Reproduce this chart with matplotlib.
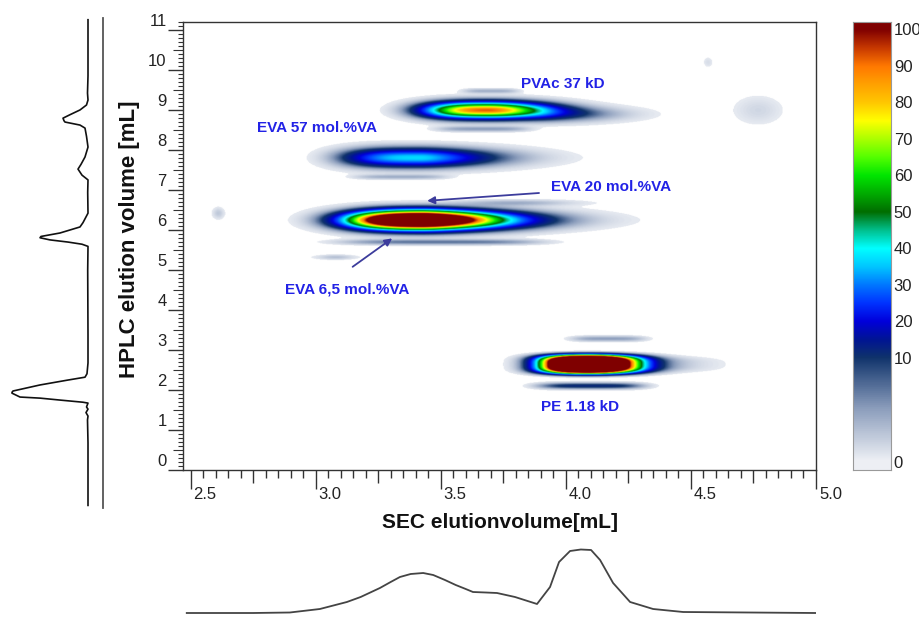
import numpy as np
import matplotlib
matplotlib.use("Agg")
import matplotlib.pyplot as plt
from matplotlib.colors import LinearSegmentedColormap
from matplotlib.transforms import ScaledTranslation

plt.rcParams['font.family'] = ['Liberation Sans', 'DejaVu Sans']

# 2D peaks (SEC x HPLC): centre, left/right width, height, amplitude, shape exponents
peak_x = [3.43, 3.80, 3.42, 3.686, 3.95, 4.09, 4.28, 3.50, 3.08, 3.34, 3.67, 3.70, 4.17, 4.10, 2.61, 4.77, 4.57]
peak_y = [6.25, 6.68, 7.81, 9.00, 8.90, 2.64, 2.64, 5.70, 5.32, 7.33, 8.53, 9.48, 3.28, 2.10, 6.42, 9.00, 10.2]
peak_wl = [0.198, 0.15, 0.23, 0.178, 0.10, 0.116, 0.15, 0.32, 0.05, 0.15, 0.15, 0.09, 0.12, 0.17, 0.015, 0.06, 0.012]
peak_wr = [0.162, 0.15, 0.164, 0.156, 0.17, 0.110, 0.16, 0.32, 0.05, 0.15, 0.15, 0.09, 0.12, 0.17, 0.015, 0.06, 0.012]
peak_h = [0.143, 0.05, 0.148, 0.128, 0.12, 0.168, 0.14, 0.045, 0.04, 0.04, 0.045, 0.04, 0.045, 0.05, 0.09, 0.22, 0.08]
peak_amp = [200, 4, 37, 92, 10, 300, 5, 7, 3, 4, 5, 4, 5, 12, 2.5, 1.6, 1.2]
peak_pl = [2.5, 2, 3.2, 2.7, 2, 2.4, 2, 4, 2, 4, 4, 4, 4, 4, 2, 2, 2]
peak_pr = [1.5, 2, 1.6, 2.0, 2, 2.0, 2, 4, 2, 4, 4, 4, 4, 4, 2, 2, 2]
peak_py = [2, 2, 2, 2, 2, 3.5, 3, 2, 2, 2, 2, 2, 2, 2, 2, 2, 2]

# HPLC trace (left), elution volume vs signal
hplc_vol = [11.3, 10.0, 9.6, 9.44, 9.325, 9.21, 9.1, 9.02, 8.96, 8.93, 8.86, 8.79, 8.6, 8.35,
            8.12, 7.95, 7.84, 7.70, 7.59, 7.3, 6.82, 6.6, 6.5, 6.36, 6.28, 6.25, 6.2, 6.15, 6.1, 6.05,
            5.5, 4.0, 3.35, 3.1, 3.02, 2.95, 2.84, 2.70, 2.67, 2.65, 2.56, 2.535, 2.49, 2.44, 2.42,
            2.33, 2.28, 2.2, 2.12, 2.03, 1.5, 0.05]
hplc_sig = [0, 0, 0.5, 0, 1.5, 8, 18, 25, 24, 23, 8, 3, 1.5, 0,
            3, 7, 10, 6, 0, 0.3, 0, 5, 8, 28, 47, 48, 38, 20, 6, 0,
            0.3, 0, 0, 1, 3, 21, 48, 75, 76, 76, 68, 48, 28, 5, 0,
            1.5, 0, 2, 0, 0.5, 0, 0]

# SEC trace (bottom)
sec_vol = [2.485, 2.75, 2.897, 3.017, 3.125, 3.18, 3.257, 3.30, 3.337, 3.38, 3.43, 3.47, 3.517,
           3.56, 3.60, 3.629, 3.68, 3.725, 3.797, 3.885, 3.937, 3.973, 4.017, 4.06, 4.101, 4.137,
           4.189, 4.257, 4.349, 4.469, 4.997]
sec_sig = [0, 0, 0.5, 4, 11, 16, 25, 31, 36, 39, 40, 38, 33,
           28, 24, 21, 20.5, 20, 16, 9, 26, 51, 62, 63.5, 63, 53,
           30, 11, 4, 1, 0]

cbar_ticks = [0, 10, 20, 30, 40, 50, 60, 70, 80, 90, 100]

labels = ["PVAc 37 kD", "EVA 57 mol.%VA", "EVA 20 mol.%VA", "EVA 6,5 mol.%VA", "PE 1.18 kD"]
label_x = [3.99, 3.006, 4.18, 3.125, 4.058]
label_y = [9.66, 8.55, 7.075, 4.5, 1.575]
arrow_from = [(3.893, 6.925), (3.148, 5.08)]
arrow_to = [(3.446, 6.73), (3.306, 5.79)]

cmap = LinearSegmentedColormap.from_list("hplc", [
    (0.00, (0.93, 0.94, 0.96)), (0.05, (0.55, 0.62, 0.74)), (0.10, (0.06, 0.20, 0.42)),
    (0.15, (0.0, 0.08, 0.58)), (0.20, (0.0, 0.0, 0.86)), (0.25, (0.0, 0.2, 1.0)),
    (0.30, (0.0, 0.47, 1.0)), (0.35, (0.0, 0.78, 1.0)), (0.40, (0.0, 1.0, 1.0)),
    (0.45, (0.0, 0.75, 0.55)), (0.50, (0.0, 0.43, 0.0)), (0.55, (0.0, 0.67, 0.0)),
    (0.60, (0.0, 0.9, 0.0)), (0.65, (0.33, 1.0, 0.0)), (0.70, (0.67, 1.0, 0.0)),
    (0.75, (1.0, 1.0, 0.0)), (0.80, (1.0, 0.78, 0.0)), (0.85, (1.0, 0.63, 0.0)),
    (0.90, (1.0, 0.47, 0.0)), (0.95, (0.78, 0.22, 0.0)), (1.00, (0.5, 0.0, 0.0))], N=512)
cmap.set_bad((1, 1, 1, 0))

xmin, xmax, ymin, ymax = 2.47, 5.0, 0.0, 11.2
xs = np.linspace(xmin, xmax, 800)
ys = np.linspace(ymin, ymax, 900)
X, Y = np.meshgrid(xs, ys)
Z = np.zeros_like(X)
for i in range(len(peak_x)):
    dx = X - peak_x[i]
    dy = np.abs(Y - peak_y[i])
    w = np.where(dx < 0, peak_wl[i], peak_wr[i])
    p = np.where(dx < 0, peak_pl[i], peak_pr[i])
    Z += peak_amp[i] * np.exp(-0.5 * (np.abs(dx) / w) ** p) * np.exp(-0.5 * (dy / peak_h[i]) ** peak_py[i])
Z = np.ma.masked_less(Z, 0.4)

fig = plt.figure(figsize=(9.2, 6.3), dpi=100)
W, H = 920.0, 630.0
ax = fig.add_axes([183 / W, 1 - 470 / H, 633 / W, 448 / H])
ax.imshow(Z, extent=(xmin, xmax, ymin, ymax), origin='lower', aspect='auto',
          cmap=cmap, vmin=0, vmax=100, interpolation='bilinear')
ax.set_xlim(xmin, xmax)
ax.set_ylim(ymin, ymax)
for s in ax.spines.values():
    s.set_color('#333333')
    s.set_linewidth(1.0)

x_major = [2.5, 3.0, 3.5, 4.0, 4.5, 5.0]
ax.set_xticks(x_major)
ax.set_xticklabels(["2.5", "3.0", "3.5", "4.0", "4.5", "5.0"])
ax.set_xticks([k * 0.05 for k in range(50, 101) if k % 5 != 0], minor=True)
ax.set_yticks(range(12))
ax.set_yticklabels([str(v) for v in range(12)])
ax.set_yticks([k * 0.1 for k in range(0, 113) if k % 5 != 0], minor=True)
ax.tick_params(axis='x', which='major', length=13.7, width=1, pad=-1.5, labelsize=12, colors='#333333', labelcolor='#222222')
ax.tick_params(axis='x', which='minor', length=5.8, width=1, colors='#333333')
ax.tick_params(axis='y', which='major', length=10.8, width=1, pad=1, labelsize=12, colors='#333333', labelcolor='#222222')
ax.tick_params(axis='y', which='minor', length=3.6, width=0.8, colors='#333333')

secx = ax.secondary_xaxis('bottom')
secx.set_xticks([2.75, 3.25, 3.75, 4.25, 4.75])
secx.tick_params(length=9.4, width=1, labelbottom=False, colors='#333333')
secx.spines['bottom'].set_visible(False)
secy = ax.secondary_yaxis('left')
secy.set_yticks([k + 0.5 for k in range(11)])
secy.tick_params(length=7.2, width=0.8, labelleft=False, colors='#333333')
secy.spines['left'].set_visible(False)

for lab in ax.get_xticklabels():
    lab.set_horizontalalignment('left')
    lab.set_transform(lab.get_transform() + ScaledTranslation(0.03, 0, fig.dpi_scale_trans))
for lab in ax.get_yticklabels():
    lab.set_transform(lab.get_transform() + ScaledTranslation(0, 0.10, fig.dpi_scale_trans))

for i in range(len(labels)):
    ax.text(label_x[i], label_y[i], labels[i], color='#2222e6', fontsize=11,
            fontweight='bold', ha='center', va='center')
for a, b in zip(arrow_from, arrow_to):
    ax.annotate("", xy=b, xytext=a,
                arrowprops=dict(arrowstyle='-|>', color='#3c3c9c', lw=1.3, mutation_scale=11, shrinkA=0, shrinkB=0))

fig.text(500 / W, 1 - 523 / H, "SEC elutionvolume[mL]", fontsize=15, fontweight='bold',
         ha='center', va='center', color='#111111')
fig.text(130 / W, 1 - 239 / H, "HPLC elution volume [mL]", fontsize=16, fontweight='bold',
         ha='center', va='center', rotation=90, color='#111111')

# colour bar with stretched 0-10 section
cax = fig.add_axes([853 / W, 1 - 470 / H, 38 / W, 448 / H])
pos_of = lambda v: np.interp(v, [0, 10, 100], [8, 112, 441])
pp = np.linspace(0, 448, 900)
vv = np.interp(pp, [8, 112, 441], [0, 10, 100])
cax.imshow(vv[:, None], extent=(0, 1, 0, 448), origin='lower', aspect='auto', cmap=cmap,
           vmin=0, vmax=100, interpolation='bilinear')
cax.set_xlim(0, 1)
cax.set_ylim(0, 448)
cax.set_xticks([])
cax.yaxis.tick_right()
cax.set_yticks(pos_of(np.array(cbar_ticks)))
cax.set_yticklabels([str(v) for v in cbar_ticks])
cax.tick_params(axis='y', length=0, pad=2, labelsize=12, labelcolor='#222222')
for s in cax.spines.values():
    s.set_color('#999999')
    s.set_linewidth(0.8)

# SEC trace
bx = fig.add_axes([183 / W, 1 - 620 / H, 633 / W, 80 / H])
bx.plot(sec_vol, sec_sig, color='#444444', lw=1.3)
bx.set_xlim(xmin, xmax)
bx.set_ylim(-7, 73)
bx.axis('off')

# HPLC trace
lx = fig.add_axes([0, 1 - 508 / H, 103 / W, 490 / H])
lx.plot(hplc_sig, hplc_vol, color='#111111', lw=1.2)
lx.set_xlim(88, -15)
lx.set_ylim(-0.01, 11.34)
lx.set_xticks([])
lx.set_yticks([])
for k in ['left', 'top', 'bottom']:
    lx.spines[k].set_visible(False)
lx.spines['right'].set_color('#555555')
lx.spines['right'].set_linewidth(1.3)
lx.patch.set_alpha(0)

fig.savefig("out.png", dpi=100)
